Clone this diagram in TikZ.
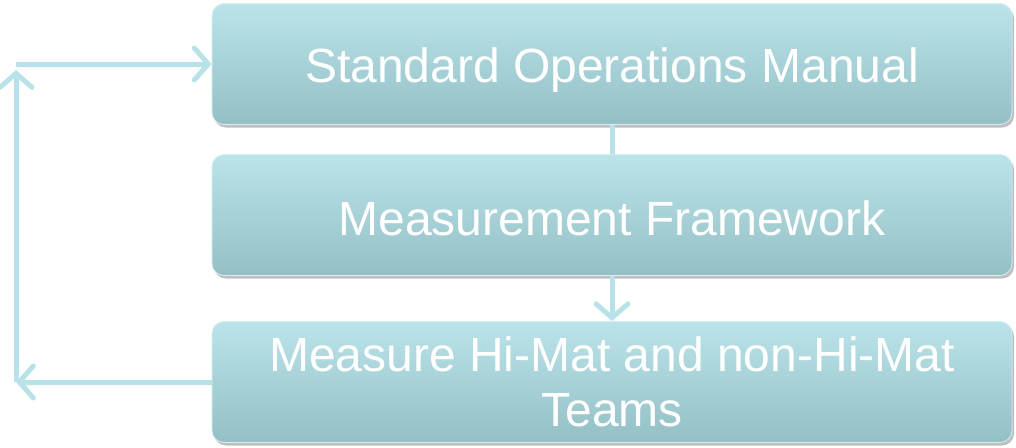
\documentclass[tikz,border=0pt]{standalone}
\usepackage{fontspec}
\setmainfont{Liberation Sans}
\usetikzlibrary{arrows.meta,shadows}
\definecolor{boxtop}{RGB}{186,228,233}
\definecolor{boxbot}{RGB}{148,191,196}
\definecolor{flow}{RGB}{184,226,231}
\tikzset{
  stagebox/.style={rounded corners=12pt, minimum width=800pt, minimum height=121pt,
    top color=boxtop, bottom color=boxbot, draw=boxtop!60!white, line width=0.8pt,
    text=white, font=\fontsize{48}{55}\selectfont, align=center,
    drop shadow={shadow xshift=2pt, shadow yshift=-3pt, opacity=0.25, fill=black}},
  flowline/.style={draw=flow, line width=5pt,
    drop shadow={shadow xshift=2pt, shadow yshift=-3pt, opacity=0.2, fill=black}},
  flowarrow/.style={flowline, -{Straight Barb[length=14pt, width=32pt, line cap=round]}},
}
% lower a label inside its box without changing the box's size
\newcommand{\lowered}[2]{\raisebox{-#1}[\height][\depth]{#2}}
\begin{document}
\begin{tikzpicture}[x=1pt, y=-1pt]
  \useasboundingbox (0,0) rectangle (1016,447);
  % the three stages
  \node[stagebox] (som) at (612,64) {\lowered{6pt}{Standard Operations Manual}};
  \node[stagebox] (mf)  at (612,215) {\lowered{3pt}{Measurement Framework}};
  \node[stagebox] (mt)  at (612,382) {Measure Hi-Mat and non-Hi-Mat\\Teams};
  % feedback loop on the left
  \coordinate (lowcorner) at (16,382);
  \coordinate (upend) at (16,70);
  \coordinate (upcorner) at (16,64);
  \path[flowarrow] (mt.west) -- (lowcorner);
  \path[flowarrow] (lowcorner) -- (upend);
  \path[flowarrow] (upcorner) -- (som.west);
  % links between the stages
  \path[flowline] (som.south) -- (mf.north);
  \path[flowarrow] (mf.south) -- (mt.north);
\end{tikzpicture}
\end{document}
